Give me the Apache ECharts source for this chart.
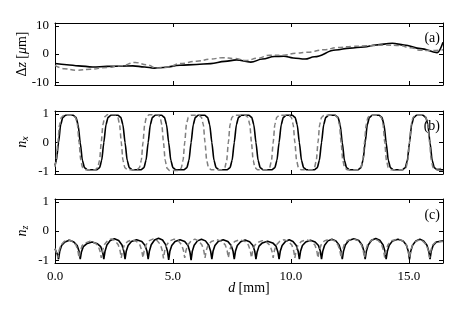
<!DOCTYPE html>
<html>
<head>
<meta charset="UTF-8">
<title>Deformación y orientación</title>
<script src="https://cdn.jsdelivr.net/npm/echarts@6.0.0/dist/echarts.min.js"></script>
<style>
    html, body { margin: 0; background: #fff; }
    #chart { width: 460px; height: 320px; }
</style>
</head>
<body>
<div id="chart"></div>
<script>
// eje x común (mm)
const xMax = 16.45;
const xTicks = [0, 5, 10, 15];

// (a) Δz [µm] : [d, valor]
const dzMeasured = [[0,-3.4],[0.5,-3.8],[1.0,-4.2],[1.6,-4.6],[2.2,-4.4],[2.8,-4.3],[3.3,-4.2],[3.8,-4.6],[4.2,-5.0],[4.6,-4.8],[5.3,-4.0],[6.0,-3.7],[6.6,-3.4],[7.2,-2.6],[7.7,-2.1],[8.3,-2.9],[8.8,-1.8],[9.3,-0.9],[9.7,-0.8],[10.1,-1.4],[10.6,-1.8],[11.0,-1.0],[11.9,1.4],[12.5,2.1],[13.1,2.5],[13.6,3.2],[14.3,3.8],[14.8,3.2],[15.5,1.9],[16.2,0.5],[16.45,4.2]];
const dzModel = [[0,-4.0],[0.4,-5.2],[0.9,-5.8],[1.5,-5.4],[2.2,-4.8],[2.8,-4.2],[3.4,-3.0],[3.9,-3.8],[4.3,-5.0],[4.8,-4.6],[5.3,-3.4],[6.0,-2.6],[6.6,-1.8],[7.1,-1.3],[7.6,-1.6],[8.1,-2.3],[8.6,-1.5],[9.1,-0.4],[9.7,-0.4],[10.2,0.3],[10.7,0.6],[11.4,1.5],[12.0,2.3],[12.6,2.7],[13.2,2.9],[14.0,3.2],[14.6,3.0],[15.1,2.2],[15.5,1.3],[16.0,1.2],[16.45,1.5]];

// (b) n_x
const nxMeasured = [[0,-0.8],[0.06,-0.62],[0.15,0],[0.24,0.62],[0.33,0.88],[0.45,0.95],
    [0.77,0.95],[0.89,0.88],[0.98,0.62],[1.07,0],[1.16,-0.62],[1.25,-0.88],[1.37,-0.95],
    [1.77,-0.95],[1.89,-0.88],[1.98,-0.62],[2.07,0],[2.16,0.62],[2.25,0.88],[2.37,0.95],
    [2.67,0.95],[2.79,0.88],[2.88,0.62],[2.97,0],[3.06,-0.62],[3.15,-0.88],[3.27,-0.95],
    [3.65,-0.95],[3.77,-0.88],[3.86,-0.62],[3.95,0],[4.04,0.62],[4.13,0.88],[4.25,0.95],
    [4.52,0.95],[4.64,0.88],[4.73,0.62],[4.82,0],[4.91,-0.62],[5.0,-0.88],[5.12,-0.95],
    [5.47,-0.95],[5.59,-0.88],[5.68,-0.62],[5.77,0],[5.86,0.62],[5.95,0.88],[6.07,0.95],
    [6.35,0.95],[6.47,0.88],[6.56,0.62],[6.65,0],[6.74,-0.62],[6.83,-0.88],[6.95,-0.95],
    [7.3,-0.95],[7.42,-0.88],[7.51,-0.62],[7.6,0],[7.69,0.62],[7.78,0.88],[7.9,0.95],
    [8.22,0.95],[8.34,0.88],[8.43,0.62],[8.52,0],[8.61,-0.62],[8.7,-0.88],[8.82,-0.95],
    [9.2,-0.95],[9.32,-0.88],[9.41,-0.62],[9.5,0],[9.59,0.62],[9.68,0.88],[9.8,0.95],
    [10.06,0.95],[10.18,0.88],[10.27,0.62],[10.36,0],[10.45,-0.62],[10.54,-0.88],[10.66,-0.95],
    [11.0,-0.95],[11.12,-0.88],[11.21,-0.62],[11.3,0],[11.39,0.62],[11.48,0.88],[11.6,0.95],
    [11.88,0.95],[12.0,0.88],[12.09,0.62],[12.18,0],[12.27,-0.62],[12.36,-0.88],[12.48,-0.95],
    [12.85,-0.95],[12.97,-0.88],[13.06,-0.62],[13.15,0],[13.24,0.62],[13.33,0.88],[13.45,0.95],
    [13.74,0.95],[13.86,0.88],[13.95,0.62],[14.04,0],[14.13,-0.62],[14.22,-0.88],[14.34,-0.95],
    [14.73,-0.95],[14.85,-0.88],[14.94,-0.62],[15.03,0],[15.12,0.62],[15.21,0.88],[15.33,0.95],
    [15.6,0.95],[15.72,0.88],[15.81,0.62],[15.9,0],[15.99,-0.62],[16.08,-0.88],[16.2,-0.95],[16.45,-0.95]];
const nxModel = [[0,-0.85],[0.05,-0.62],[0.12,0],[0.19,0.62],[0.27,0.88],[0.38,0.95],
    [0.76,0.95],[0.87,0.88],[0.95,0.62],[1.02,0],[1.09,-0.62],[1.17,-0.88],[1.28,-0.95],
    [1.7,-0.95],[1.81,-0.88],[1.89,-0.62],[1.96,0],[2.03,0.62],[2.11,0.9],[2.22,0.97],
    [2.55,0.97],[2.66,0.9],[2.74,0.62],[2.81,0],[2.88,-0.62],[2.96,-0.88],[3.07,-0.95],
    [3.47,-0.95],[3.58,-0.88],[3.66,-0.62],[3.73,0],[3.8,0.62],[3.88,0.9],[3.99,0.97],
    [4.34,0.97],[4.45,0.9],[4.53,0.62],[4.6,0],[4.67,-0.62],[4.75,-0.9],[4.86,-0.98],
    [5.24,-0.98],[5.35,-0.9],[5.43,-0.62],[5.5,0],[5.57,0.62],[5.65,0.88],[5.76,0.95],
    [6.1,0.95],[6.21,0.88],[6.29,0.62],[6.36,0],[6.43,-0.62],[6.51,-0.88],[6.62,-0.95],
    [7.09,-0.95],[7.2,-0.88],[7.28,-0.62],[7.35,0],[7.42,0.62],[7.5,0.88],[7.61,0.95],
    [8.07,0.95],[8.18,0.88],[8.26,0.62],[8.33,0],[8.4,-0.62],[8.48,-0.88],[8.59,-0.95],
    [8.99,-0.95],[9.1,-0.88],[9.18,-0.62],[9.25,0],[9.32,0.62],[9.4,0.88],[9.51,0.95],
    [9.91,0.95],[10.02,0.88],[10.1,0.62],[10.17,0],[10.24,-0.62],[10.32,-0.88],[10.43,-0.95],
    [10.89,-0.95],[11.0,-0.88],[11.08,-0.62],[11.15,0],[11.22,0.62],[11.3,0.88],[11.41,0.95],
    [11.87,0.95],[11.98,0.88],[12.06,0.62],[12.13,0],[12.2,-0.62],[12.28,-0.88],[12.39,-0.95],
    [12.86,-0.95],[12.97,-0.88],[13.05,-0.62],[13.12,0],[13.19,0.62],[13.27,0.88],[13.38,0.95],
    [13.72,0.95],[13.83,0.88],[13.91,0.62],[13.98,0],[14.05,-0.62],[14.13,-0.88],[14.24,-0.95],
    [14.77,-0.95],[14.88,-0.88],[14.96,-0.62],[15.03,0],[15.1,0.62],[15.18,0.88],[15.29,0.95],
    [15.62,0.95],[15.73,0.88],[15.81,0.62],[15.88,0],[15.95,-0.62],[16.03,-0.88],[16.14,-0.93],[16.45,-0.9]];

// (c) n_z
const nzMeasured = [[0,-0.62],[0.1,-0.8],[0.15,-0.97],
    [0.2,-0.7],[0.28,-0.5],[0.42,-0.38],[0.61,-0.32],[0.8,-0.38],[0.94,-0.5],[1.02,-0.7],[1.07,-0.97],
    [1.12,-0.72],[1.2,-0.54],[1.34,-0.44],[1.57,-0.38],[1.8,-0.44],[1.94,-0.54],[2.02,-0.72],[2.07,-0.97],
    [2.12,-0.7],[2.2,-0.48],[2.34,-0.33],[2.52,-0.27],[2.7,-0.33],[2.84,-0.48],[2.92,-0.7],[2.97,-0.97],
    [3.02,-0.7],[3.1,-0.5],[3.24,-0.36],[3.46,-0.3],[3.68,-0.36],[3.82,-0.5],[3.9,-0.7],[3.95,-0.97],
    [4.0,-0.7],[4.08,-0.47],[4.22,-0.31],[4.39,-0.25],[4.56,-0.31],[4.69,-0.47],[4.77,-0.7],[4.82,-0.99],
    [4.87,-0.7],[4.95,-0.5],[5.09,-0.36],[5.3,-0.3],[5.5,-0.36],[5.64,-0.5],[5.72,-0.72],[5.77,-1.0],
    [5.82,-0.7],[5.9,-0.49],[6.04,-0.34],[6.21,-0.28],[6.38,-0.34],[6.52,-0.49],[6.6,-0.7],[6.65,-0.97],
    [6.7,-0.7],[6.78,-0.5],[6.92,-0.36],[7.13,-0.3],[7.33,-0.36],[7.47,-0.5],[7.55,-0.7],[7.6,-0.97],
    [7.65,-0.7],[7.73,-0.5],[7.87,-0.37],[8.06,-0.31],[8.25,-0.37],[8.39,-0.5],[8.47,-0.7],[8.52,-0.97],
    [8.57,-0.72],[8.65,-0.52],[8.79,-0.41],[9.01,-0.35],[9.23,-0.41],[9.37,-0.52],[9.45,-0.72],[9.5,-0.97],
    [9.55,-0.7],[9.63,-0.5],[9.77,-0.36],[9.93,-0.3],[10.09,-0.36],[10.23,-0.5],[10.31,-0.7],[10.36,-0.97],
    [10.41,-0.7],[10.49,-0.5],[10.63,-0.38],[10.83,-0.32],[11.03,-0.38],[11.17,-0.5],[11.25,-0.7],[11.3,-0.97],
    [11.35,-0.7],[11.43,-0.49],[11.57,-0.34],[11.74,-0.28],[11.91,-0.34],[12.05,-0.49],[12.13,-0.7],[12.18,-0.97],
    [12.23,-0.7],[12.31,-0.48],[12.45,-0.33],[12.67,-0.27],[12.88,-0.33],[13.02,-0.48],[13.1,-0.7],[13.15,-0.97],
    [13.2,-0.7],[13.28,-0.48],[13.42,-0.32],[13.6,-0.26],[13.77,-0.32],[13.91,-0.48],[13.99,-0.7],[14.04,-0.97],
    [14.09,-0.7],[14.17,-0.49],[14.31,-0.34],[14.54,-0.28],[14.76,-0.34],[14.9,-0.49],[14.98,-0.7],[15.03,-0.98],
    [15.08,-0.7],[15.16,-0.49],[15.3,-0.34],[15.47,-0.28],[15.63,-0.34],[15.77,-0.49],[15.85,-0.7],[15.9,-0.97],
    [15.95,-0.7],[16.03,-0.5],[16.17,-0.38],[16.45,-0.34]];
const nzModel = [[0,-0.6],[0.08,-0.78],[0.12,-0.92],
    [0.17,-0.68],[0.25,-0.48],[0.39,-0.36],[0.57,-0.3],[0.75,-0.36],[0.89,-0.48],[0.97,-0.68],[1.02,-0.92],
    [1.07,-0.7],[1.15,-0.5],[1.29,-0.41],[1.49,-0.35],[1.69,-0.41],[1.83,-0.5],[1.91,-0.7],[1.96,-0.92],
    [2.01,-0.68],[2.09,-0.47],[2.23,-0.33],[2.39,-0.27],[2.54,-0.33],[2.68,-0.47],[2.76,-0.68],[2.81,-0.92],
    [2.86,-0.68],[2.94,-0.48],[3.08,-0.36],[3.27,-0.3],[3.46,-0.36],[3.6,-0.48],[3.68,-0.68],[3.73,-0.92],
    [3.78,-0.68],[3.86,-0.47],[4.0,-0.33],[4.17,-0.27],[4.33,-0.33],[4.47,-0.47],[4.55,-0.68],[4.6,-0.94],
    [4.65,-0.68],[4.73,-0.48],[4.87,-0.34],[5.05,-0.28],[5.23,-0.34],[5.37,-0.48],[5.45,-0.68],[5.5,-0.92],
    [5.55,-0.68],[5.63,-0.48],[5.77,-0.34],[5.93,-0.28],[6.09,-0.34],[6.23,-0.48],[6.31,-0.68],[6.36,-0.92],
    [6.41,-0.68],[6.49,-0.48],[6.63,-0.36],[6.86,-0.3],[7.08,-0.36],[7.22,-0.48],[7.3,-0.68],[7.35,-0.92],
    [7.4,-0.68],[7.48,-0.48],[7.62,-0.36],[7.84,-0.3],[8.06,-0.36],[8.2,-0.48],[8.28,-0.68],[8.33,-0.92],
    [8.38,-0.7],[8.46,-0.5],[8.6,-0.39],[8.79,-0.33],[8.98,-0.39],[9.12,-0.5],[9.2,-0.7],[9.25,-0.92],
    [9.3,-0.68],[9.38,-0.48],[9.52,-0.36],[9.71,-0.3],[9.9,-0.36],[10.04,-0.48],[10.12,-0.68],[10.17,-0.92],
    [10.22,-0.68],[10.3,-0.48],[10.44,-0.36],[10.66,-0.3],[10.88,-0.36],[11.02,-0.48],[11.1,-0.68],[11.15,-0.92],
    [11.2,-0.68],[11.28,-0.48],[11.42,-0.34],[11.64,-0.28],[11.86,-0.34],[12.0,-0.48],[12.08,-0.68],[12.13,-0.92],
    [12.18,-0.68],[12.26,-0.47],[12.4,-0.33],[12.63,-0.27],[12.85,-0.33],[12.99,-0.47],[13.07,-0.68],[13.12,-0.92],
    [13.17,-0.68],[13.25,-0.47],[13.39,-0.33],[13.55,-0.27],[13.71,-0.33],[13.85,-0.47],[13.93,-0.68],[13.98,-0.92],
    [14.03,-0.68],[14.11,-0.48],[14.25,-0.34],[14.51,-0.28],[14.76,-0.34],[14.9,-0.48],[14.98,-0.68],[15.03,-0.93],
    [15.08,-0.68],[15.16,-0.48],[15.3,-0.36],[15.46,-0.3],[15.61,-0.36],[15.75,-0.48],[15.83,-0.68],[15.88,-0.92],
    [15.93,-0.68],[16.01,-0.48],[16.15,-0.37],[16.45,-0.36]];

const yRangeA = [-11, 11];
const yTicksA = [-10, 0, 10];
const yRangeN = [-1.1, 1.1];
const yTicksN = [-1, 0, 1];

const font = "'Liberation Serif', 'Times New Roman', serif";
const panels = [
    { top: 23, height: 62, range: yRangeA, ticks: yTicksA, solid: dzMeasured, dashed: dzModel, smooth: 0.4 },
    { top: 111, height: 63, range: yRangeN, ticks: yTicksN, solid: nxMeasured, dashed: nxModel, smooth: 0.2 },
    { top: 199, height: 64, range: yRangeN, ticks: yTicksN, solid: nzMeasured, dashed: nzModel, smooth: false }
];

const grid = [], xAxis = [], yAxis = [], series = [];
panels.forEach((p, i) => {
    grid.push({ left: 55, width: 388, top: p.top, height: p.height });
    const last = i === panels.length - 1;
    ['bottom', 'top'].forEach(pos => {
        xAxis.push({
            type: 'value', gridIndex: i, position: pos, min: 0, max: xMax,
            axisLine: { onZero: false, lineStyle: { color: '#000', width: 1 } },
            axisTick: { inside: true, length: 4, customValues: [5, 10, 15], lineStyle: { color: '#000' } },
            axisLabel: {
                show: last && pos === 'bottom', customValues: xTicks, margin: 7,
                color: '#000', fontFamily: font, fontSize: 13,
                formatter: v => v.toFixed(1)
            },
            splitLine: { show: false }
        });
    });
    ['left', 'right'].forEach(pos => {
        yAxis.push({
            type: 'value', gridIndex: i, position: pos, min: p.range[0], max: p.range[1],
            axisLine: { onZero: false, lineStyle: { color: '#000', width: 1 } },
            axisTick: { inside: true, length: 4, customValues: p.ticks, lineStyle: { color: '#000' } },
            axisLabel: {
                show: pos === 'left', customValues: p.ticks, margin: 6,
                color: '#000', fontFamily: font, fontSize: 13
            },
            splitLine: { show: false }
        });
    });
    series.push({
        type: 'line', xAxisIndex: 2 * i, yAxisIndex: 2 * i, data: p.solid,
        showSymbol: false, smooth: p.smooth, smoothMonotone: 'x',
        lineStyle: { color: '#000', width: 1.6 }
    });
    series.push({
        type: 'line', xAxisIndex: 2 * i, yAxisIndex: 2 * i, data: p.dashed,
        showSymbol: false, smooth: p.smooth, smoothMonotone: 'x',
        lineStyle: { color: '#7f7f7f', width: 1.5, type: [5, 3] }
    });
});

const rich = {
    n: { fontFamily: font, fontSize: 14, color: '#000' },
    i: { fontFamily: font, fontSize: 14, fontStyle: 'italic', color: '#000' },
    s: { fontFamily: font, fontSize: 10, fontStyle: 'italic', color: '#000', padding: [6, 0, 0, 0] }
};
function label(text, x, y, rotate) {
    return {
        type: 'text', x: x, y: y, rotation: rotate ? Math.PI / 2 : 0,
        style: { text: text, rich: rich, align: 'center', verticalAlign: 'middle' }
    };
}
function tag(text, y) {
    return {
        type: 'text', x: 440, y: y,
        style: { text: text, fontFamily: font, fontSize: 14, fill: '#000', align: 'right', verticalAlign: 'middle' }
    };
}

const chart = echarts.init(document.getElementById('chart'));
chart.setOption({
    animation: false,
    backgroundColor: '#fff',
    grid: grid,
    xAxis: xAxis,
    yAxis: yAxis,
    series: series,
    graphic: [
        label('{n|Δ}{i|z} {n|[}{i|μ}{n|m]}', 22, 54, true),
        label('{i|n}{s|x}', 22, 142, true),
        label('{i|n}{s|z}', 22, 231, true),
        label('{i|d} {n|[mm]}', 249, 288, false),
        tag('(a)', 38),
        tag('(b)', 126),
        tag('(c)', 215)
    ]
});
</script>
</body>
</html>
